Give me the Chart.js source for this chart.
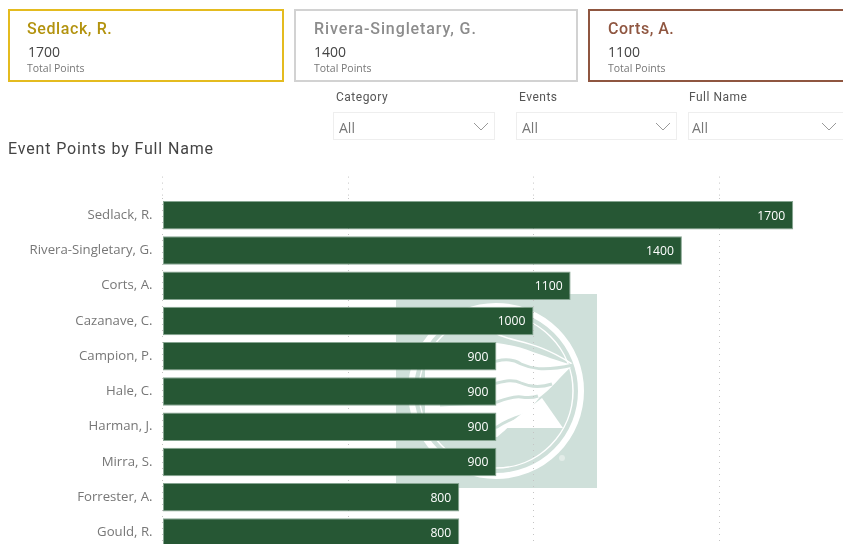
<!DOCTYPE html>
<html>
<head>
<meta charset="utf-8">
<title>Event Points by Full Name</title>
<script src="https://cdn.jsdelivr.net/npm/chart.js@4"></script>
<style>
    html, body { margin: 0; padding: 0; background: #fff; overflow: hidden; }
    #page { position: relative; width: 843px; height: 544px; overflow: hidden; }
    #page > * { position: absolute; box-sizing: border-box; }
    .card { top: 9px; height: 73px; border: 2px solid; }
    .card .name { position: absolute; left: 18px; top: 8px; font: 500 16px Roboto, sans-serif; letter-spacing: 0.9px; white-space: nowrap; }
    .card .pts { position: absolute; left: 18px; top: 31px; font: 14px "Open Sans", sans-serif; color: #444; }
    .card .sub { position: absolute; left: 18px; top: 50px; font: 10.5px "Open Sans", sans-serif; color: #777; }
    .slicer-label { top: 90px; font: 12px Roboto, sans-serif; letter-spacing: 0.5px; color: #555; }
    .slicer { top: 112px; height: 28px; border: 1px solid #eee; font: 14px "Open Sans", sans-serif; color: #777; padding: 5px 0 0 5px; }
    .slicer svg { position: absolute; right: 4px; top: 8px; }
    #title { left: 8px; top: 139px; font: 16px Roboto, sans-serif; letter-spacing: 0.85px; color: #444; }
    #chart { left: 0; top: 0; }
</style>
</head>
<body>
<div id="page">
    <svg style="left:396px;top:294px" width="201" height="194" viewBox="396 294 201 194">
        <rect x="396" y="294" width="201" height="194" fill="#cfe0da"/>
        <circle cx="496" cy="391" r="85" fill="none" stroke="#fff" stroke-width="6"/>
        <circle cx="496" cy="391" r="77" fill="none" stroke="#fff" stroke-width="1.5"/>
        <path d="M573 365 C555 360 545 356 533 352 C520 347 510 345 497 343 L425 345 L425 437 L497 437 C505 431 508 427 513 423 C525 416 533 405 540 397 C550 390 560 377 573 365 Z" fill="#fff"/>
        <path d="M497 334 C515 343 535 340 572 364" fill="none" stroke="#fff" stroke-width="1.5"/>
        <g fill="none" stroke="#cfe0da" stroke-width="3">
            <path d="M440 363 L497 361 C505 359 513 359 521 364 C530 368 542 372 573 365"/>
            <path d="M440 385 L497 383 C505 381 513 379 521 383 C530 387 540 388 552 384"/>
            <path d="M440 405 L497 402 C505 399 513 396 521 397 C528 398 533 398 538 396"/>
            <path d="M440 432 L497 427 C505 422 513 418 521 416 C530 413 535 408 541 398"/>
        </g>
        <path d="M542 398 L563 428 L503 428 Z" fill="#fff"/>
        <circle cx="562" cy="458" r="3" fill="#e3ece8"/>
    </svg>

    <canvas id="chart" width="910" height="568"></canvas>

    <div class="card" style="left:8px;width:276px;border-color:#e4bb1f">
        <div class="name" style="left:17px;letter-spacing:0.6px;color:#b3930f">Sedlack, R.</div>
        <div class="pts">1700</div>
        <div class="sub" style="left:17px">Total Points</div>
    </div>
    <div class="card" style="left:294px;width:284px;border-color:#d2d2d2">
        <div class="name" style="color:#8c8c8c">Rivera-Singletary, G.</div>
        <div class="pts">1400</div>
        <div class="sub">Total Points</div>
    </div>
    <div class="card" style="left:588px;width:270px;border-color:#8f5640">
        <div class="name" style="letter-spacing:0.5px;color:#8f5640">Corts, A.</div>
        <div class="pts">1100</div>
        <div class="sub">Total Points</div>
    </div>

    <div class="slicer-label" style="left:336px">Category</div>
    <div class="slicer" style="left:333px;width:162px">All<svg width="18" height="12"><path d="M2 2 L9 9 L16 2" fill="none" stroke="#999"/></svg></div>
    <div class="slicer-label" style="left:519px">Events</div>
    <div class="slicer" style="left:516px;width:161px">All<svg width="18" height="12"><path d="M2 2 L9 9 L16 2" fill="none" stroke="#999"/></svg></div>
    <div class="slicer-label" style="left:689px">Full Name</div>
    <div class="slicer" style="left:688px;width:170px;padding-left:3px">All<svg style="right:19px" width="18" height="12"><path d="M2 2 L9 9 L16 2" fill="none" stroke="#999"/></svg></div>

    <div id="title">Event Points by Full Name</div>
</div>

<script>
const names = ['Sedlack, R.', 'Rivera-Singletary, G.', 'Corts, A.', 'Cazanave, C.', 'Campion, P.', 'Hale, C.', 'Harman, J.', 'Mirra, S.', 'Forrester, A.', 'Gould, R.'];
const points = [1700, 1400, 1100, 1000, 900, 900, 900, 900, 800, 800];
const xTicks = [0, 500, 1000, 1500, 2000];

// white value inside the end of each bar
const barValues = {
    id: 'barValues',
    afterDatasetsDraw(chart) {
        const ctx = chart.ctx;
        ctx.save();
        ctx.font = '12.2px "Open Sans", sans-serif';
        ctx.fillStyle = '#fff';
        ctx.textAlign = 'right';
        ctx.textBaseline = 'middle';
        chart.getDatasetMeta(0).data.forEach((bar, i) => {
            ctx.fillText(points[i], bar.x - 8, bar.y + 1);
        });
        ctx.restore();
    }
};

new Chart(document.getElementById('chart'), {
    type: 'bar',
    data: {
        labels: names,
        datasets: [{
            data: points,
            backgroundColor: '#265734',
            borderColor: '#86a591',
            borderWidth: 1,
            borderSkipped: false,
            categoryPercentage: 1,
            barPercentage: 0.81
        }]
    },
    options: {
        indexAxis: 'y',
        responsive: false,
        animation: false,
        layout: { padding: { right: 5.5 } },
        plugins: { legend: { display: false }, tooltip: { enabled: false } },
        scales: {
            x: {
                position: 'top',
                min: xTicks[0],
                max: xTicks[xTicks.length - 1],
                afterBuildTicks(scale) { scale.ticks = xTicks.map(v => ({ value: v })); },
                afterFit(scale) { scale.height = 197.6; },
                ticks: { display: false },
                border: { display: false, dash: [1, 5] },
                grid: {
                    color: '#c4c4c4',
                    tickBorderDash: [1, 5],
                    tickColor: '#c4c4c4',
                    tickLength: 21
                }
            },
            y: {
                afterFit(scale) { scale.width = 162.5; },
                grid: { display: false, drawTicks: false },
                border: { display: false },
                ticks: {
                    color: '#777',
                    padding: 10,
                    font: { family: '"Open Sans", sans-serif', size: 13.2 }
                }
            }
        }
    },
    plugins: [barValues]
});
</script>
</body>
</html>
